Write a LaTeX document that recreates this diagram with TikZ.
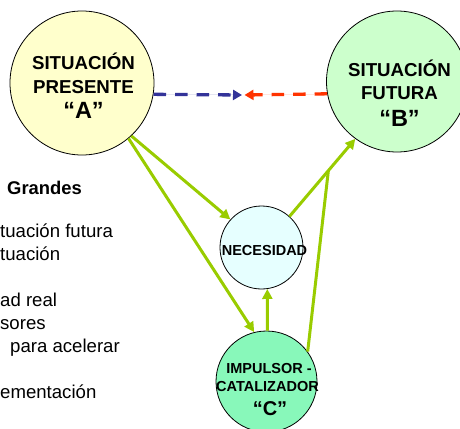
\documentclass[tikz,border=0pt]{standalone}
\usepackage{fontspec}
\setmainfont{Liberation Sans}
\usetikzlibrary{arrows.meta,calc}
\definecolor{cA}{HTML}{FFFFCC}
\definecolor{cB}{HTML}{CCFFCC}
\definecolor{cN}{HTML}{E6FFFF}
\definecolor{cI}{HTML}{88F8BA}
\definecolor{lgreen}{HTML}{99CC00}
\definecolor{lblue}{HTML}{333399}
\definecolor{lred}{HTML}{FF3300}
\begin{document}
\begin{tikzpicture}[x=1pt,y=-1pt,
  circ/.style={circle,draw=black,line width=0.8pt,inner sep=0pt},
  big/.style={anchor=base,inner sep=0pt,font=\bfseries\fontsize{18.7}{18.7}\selectfont},
  huge/.style={anchor=base,inner sep=0pt,font=\bfseries\fontsize{23.5}{23.5}\selectfont},
  small/.style={anchor=base,inner sep=0pt,font=\bfseries\fontsize{14.5}{14.5}\selectfont},
  mid/.style={anchor=base,inner sep=0pt,font=\bfseries\fontsize{20}{20}\selectfont},
  side/.style={anchor=base west,inner sep=0pt,font=\fontsize{18.6}{18.6}\selectfont},
  sideb/.style={anchor=base west,inner sep=0pt,font=\bfseries\fontsize{18.4}{18.4}\selectfont},
  gline/.style={draw=lgreen,line width=3pt},
  garrow/.style={gline,-{Triangle[length=10pt,width=10pt]}},
  dline/.style={line width=3.3pt,dash pattern=on 12.5pt off 9pt,-{Triangle[length=9pt,width=10pt]}}
]
\useasboundingbox (0,0) rectangle (460,428);
\clip (0,0) rectangle (460,428);

% left text fragments
\node[sideb] (t0) at (7,194) {Grandes};
\node[side] (t1) at (0,237.5) {tuación futura};
\node[side] (t2) at (0,260.5) {tuación};
\node[side] (t3) at (0,306.5) {ad real};
\node[side] (t4) at (0,329.5) {sores};
\node[side] (t5) at (10,352.5) {para acelerar};
\node[side] (t6) at (0,398.5) {ementación};

% circles
\node[circ,fill=cA,minimum size=144pt] (A) at (82,83) {};
\node[circ,fill=cB,minimum size=141pt] (B) at (397,81.5) {};
\node[circ,fill=cN,minimum size=83pt] (N) at (261.5,247.5) {};
\node[circ,fill=cI,minimum size=101pt] (I) at (266.5,381.5) {};

% circle texts
\node[big] (A1) at (83.5,69.4) {SITUACIÓN};
\node[big] (A2) at (83.5,93.5) {PRESENTE};
\node[huge] (A3) at (83.5,118.5) {“A”};
\node[big] (B1) at (399.5,76.4) {SITUACIÓN};
\node[big] (B2) at (399.5,99.4) {FUTURA};
\node[huge] (B3) at (399.5,126.3) {“B”};
\node[small] (N1) at (264.5,255) {NECESIDAD};
\node[small] (I1) at (269,373) {IMPULSOR -};
\node[small] (I2) at (267.5,391) {CATALIZADOR};
\node[mid] (I3) at (270,415) {“C”};

% dashed arrows
\coordinate (mL) at (242,95);
\coordinate (mR) at (244.5,95);
\draw[dline,draw=lblue,fill=lblue] (A.-9.6) -- (mL);
\draw[dline,draw=lred,fill=lred] (B.190.6) -- (mR);

% green connectors
\draw[garrow,fill=lgreen] (A.-47) -- (N.138);
\draw[garrow,fill=lgreen] (A.-50) -- (I.104);
\draw[garrow,fill=lgreen] (I.89) -- (N.278);
\draw[garrow,fill=lgreen] (N.48) -- (B.234);
\coordinate (J) at ($(N.48)!0.59!(B.234)$);
\draw[gline] (I.36) -- (J);
\end{tikzpicture}
\end{document}
